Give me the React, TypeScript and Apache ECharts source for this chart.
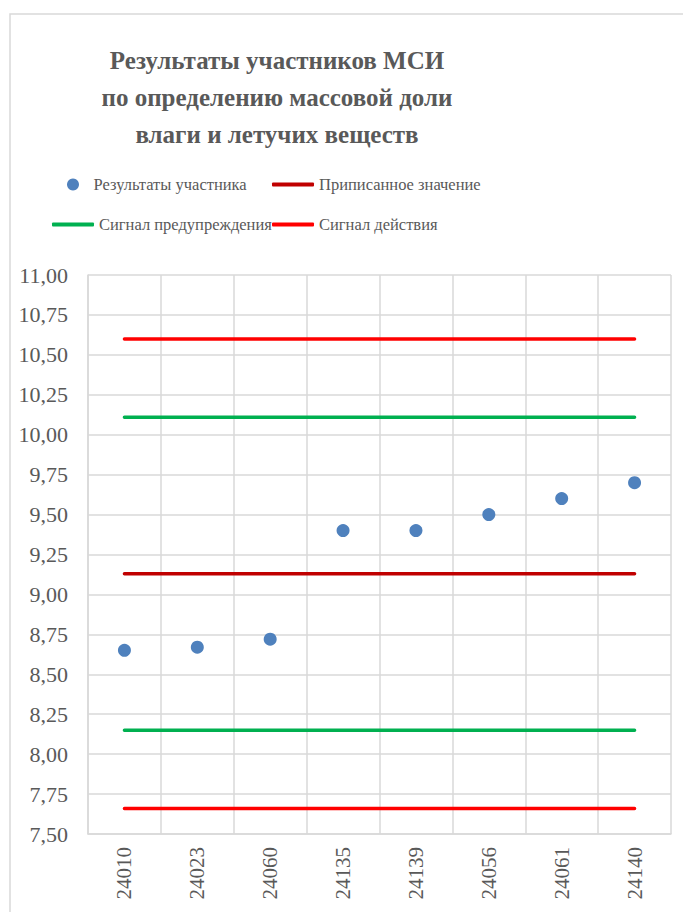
import React, { useEffect, useRef } from "react";
import * as echarts from "echarts";

const categories = ["24010", "24023", "24060", "24135", "24139", "24056", "24061", "24140"];
const participantResults = [8.65, 8.67, 8.72, 9.4, 9.4, 9.5, 9.6, 9.7];
const assignedValue = [9.13, 9.13, 9.13, 9.13, 9.13, 9.13, 9.13, 9.13];
const warningUpper = [10.11, 10.11, 10.11, 10.11, 10.11, 10.11, 10.11, 10.11];
const warningLower = [8.15, 8.15, 8.15, 8.15, 8.15, 8.15, 8.15, 8.15];
const actionUpper = [10.6, 10.6, 10.6, 10.6, 10.6, 10.6, 10.6, 10.6];
const actionLower = [7.66, 7.66, 7.66, 7.66, 7.66, 7.66, 7.66, 7.66];

const S_RES = "Результаты участника";
const S_ASSIGNED = "Приписанное значение";
const S_WARN = "Сигнал предупреждения";
const S_ACTION = "Сигнал действия";

const FONT = "Liberation Serif";
const TEXT = "#595959";
const GRID = "#d9d9d9";

export default function App() {
  const ref = useRef<HTMLDivElement>(null);
  useEffect(() => {
    const chart = echarts.init(ref.current!, null, { renderer: "svg" });
    const legendText = { color: TEXT, fontFamily: FONT, fontSize: 16.5 };
    const lineSeries = (name: string, data: number[], color: string) => ({
      name,
      type: "line",
      data,
      symbol: "none",
      showSymbol: false,
      lineStyle: { color, width: 3.5, cap: "round" },
      itemStyle: { color },
      z: 3,
    });
    const lineLegend = (name: string, left: number, top: number) => ({
      data: [{ name, icon: "roundRect" }],
      left,
      top,
      padding: 0,
      itemWidth: 42,
      itemHeight: 4,
      textStyle: legendText,
    });
    chart.setOption({
      animation: false,
      backgroundColor: "#ffffff",
      title: {
        text: "Результаты участников МСИ\nпо определению массовой доли\nвлаги и летучих веществ",
        left: 272,
        top: 37,
        textAlign: "center",
        textStyle: {
          color: TEXT,
          fontFamily: FONT,
          fontSize: 25,
          fontWeight: "bold",
          lineHeight: 37,
        },
      },
      graphic: [
        {
          type: "rect",
          shape: { x: 10, y: 14, width: 720, height: 940 },
          style: { fill: "none", stroke: GRID, lineWidth: 1.5 },
          silent: true,
          z: -10,
        },
      ],
      legend: [
        {
          data: [{ name: S_RES, icon: "circle" }],
          left: 67,
          top: 176,
          padding: 0,
          itemWidth: 31,
          itemHeight: 12,
          textStyle: legendText,
        },
        lineLegend(S_ASSIGNED, 272, 176),
        lineLegend(S_WARN, 52, 216),
        lineLegend(S_ACTION, 272, 216),
      ],
      grid: { left: 88, right: 12, top: 275, bottom: 78 },
      xAxis: {
        type: "category",
        data: categories,
        boundaryGap: true,
        axisLine: { show: true, lineStyle: { color: GRID, width: 1.5 } },
        axisTick: { show: false },
        splitLine: { show: true, lineStyle: { color: GRID, width: 1.5 } },
        axisLabel: {
          rotate: 90,
          margin: 13,
          color: TEXT,
          fontFamily: FONT,
          fontSize: 21,
          interval: 0,
        },
      },
      yAxis: {
        type: "value",
        min: 7.5,
        max: 11,
        interval: 0.25,
        axisLine: { show: true, lineStyle: { color: GRID, width: 1.5 } },
        axisTick: { show: false },
        splitLine: { show: true, lineStyle: { color: GRID, width: 1.5 } },
        axisLabel: {
          margin: 20,
          color: TEXT,
          fontFamily: FONT,
          fontSize: 22,
          formatter: (v: number) => v.toFixed(2).replace(".", ","),
        },
      },
      series: [
        {
          name: S_RES,
          type: "scatter",
          data: participantResults,
          symbol: "circle",
          symbolSize: 13,
          itemStyle: { color: "#4f81bd", opacity: 1 },
          z: 4,
        },
        lineSeries(S_ASSIGNED, assignedValue, "#c00000"),
        lineSeries(S_WARN, warningUpper, "#00b050"),
        lineSeries(S_WARN, warningLower, "#00b050"),
        lineSeries(S_ACTION, actionUpper, "#ff0000"),
        lineSeries(S_ACTION, actionLower, "#ff0000"),
      ],
    });
    return () => chart.dispose();
  }, []);
  return (
    <div
      ref={ref}
      style={{ position: "fixed", left: 0, top: 0, width: 683, height: 912 }}
    />
  );
}
